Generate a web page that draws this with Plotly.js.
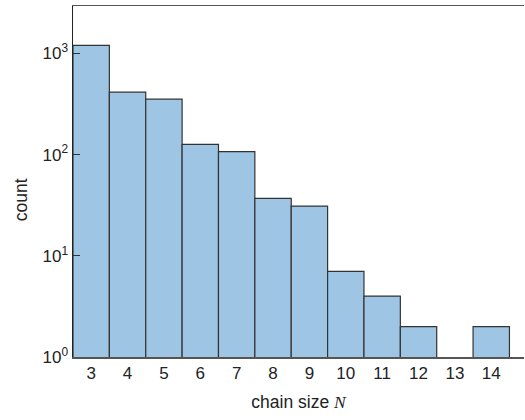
<!DOCTYPE html>
<html>
<head>
<meta charset="utf-8">
<script src="https://cdn.plot.ly/plotly-3.0.1.min.js"></script>
<style>html,body{margin:0;padding:0;background:#fff;}#chart{width:525px;height:420px;}</style>
</head>
<body>
<div id="chart"></div>
<script>
const chainSizes = [3, 4, 5, 6, 7, 8, 9, 10, 11, 12, 13, 14];
const counts = [1200, 414, 353, 126, 107, 37, 31, 7, 4, 2, 0, 2];
const yTickVals = [1, 10, 100, 1000];
const yTickText = ['10<sup>0</sup>', '10<sup>1</sup>', '10<sup>2</sup>', '10<sup>3</sup>'];

const trace = {
  type: 'bar',
  x: chainSizes,
  y: counts,
  width: 1,
  marker: {color: '#9fc5e5', line: {color: '#333333', width: 1.2}},
  hoverinfo: 'x+y'
};

const layout = {
  width: 525, height: 420,
  margin: {l: 73, r: 1, t: 6, b: 63},
  paper_bgcolor: '#ffffff',
  plot_bgcolor: '#ffffff',
  font: {family: 'Liberation Sans, Arial, sans-serif', size: 17, color: '#222222'},
  showlegend: false,
  bargap: 0,
  xaxis: {
    range: [2.5, 14.9],
    tickmode: 'array',
    tickvals: chainSizes,
    ticktext: chainSizes.map(String),
    ticks: '',
    showgrid: false,
    zeroline: false,
    showline: true,
    mirror: true,
    linecolor: '#555555',
    linewidth: 1.5,
    tickfont: {size: 17},
    title: {text: 'chain size <i style="font-family:Liberation Serif">N</i>', font: {size: 17.5}, standoff: 14}
  },
  yaxis: {
    type: 'log',
    range: [0, 3.468],
    tickmode: 'array',
    tickvals: yTickVals,
    ticktext: yTickText,
    ticks: 'inside',
    ticklen: 7,
    tickcolor: '#333333',
    showgrid: false,
    zeroline: false,
    showline: true,
    linecolor: '#222222',
    linewidth: 1.5,
    tickfont: {size: 17}
  },
  annotations: [{
    text: 'count', xref: 'paper', yref: 'paper', x: -0.115, y: 0.447,
    xanchor: 'center', yanchor: 'middle', textangle: -90, showarrow: false,
    font: {size: 17.5, color: '#222222'}
  }]
};

Plotly.newPlot('chart', [trace], layout, {displayModeBar: false, staticPlot: true});
</script>
</body>
</html>
